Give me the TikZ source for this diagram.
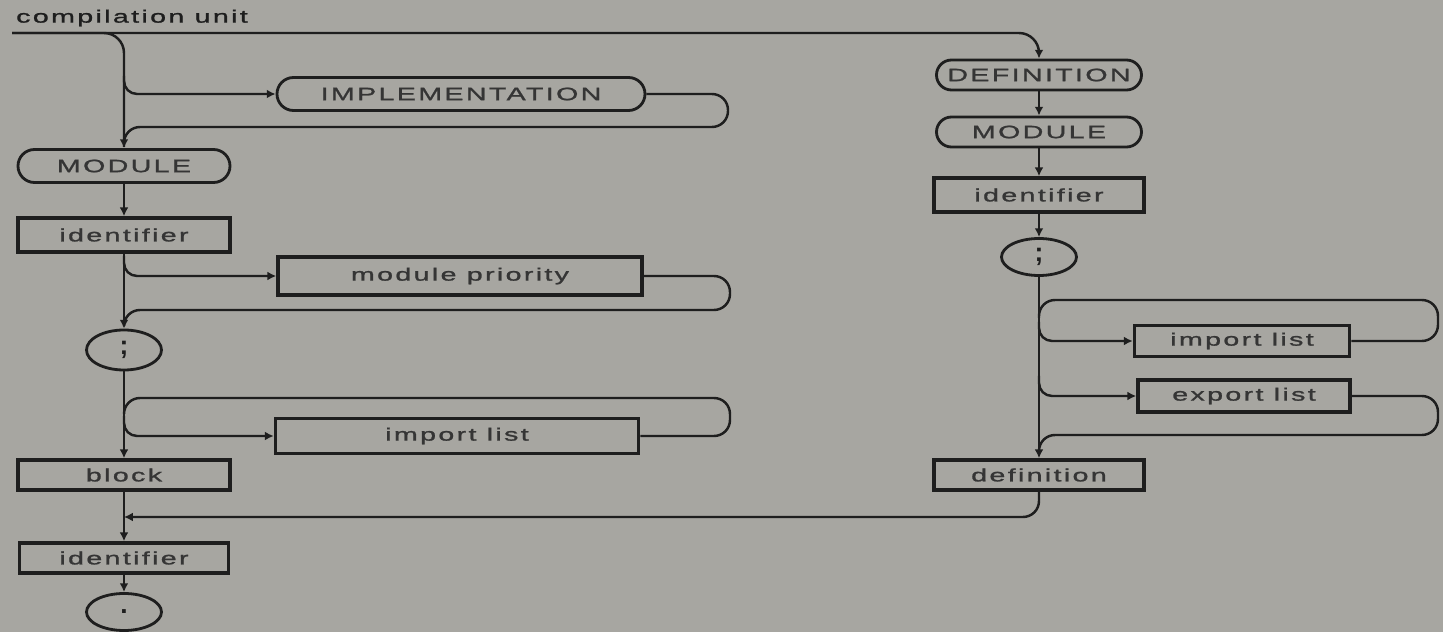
\documentclass[tikz,border=0pt]{standalone}
\usepackage{fontspec}
\newfontfamily\wirthfont[FakeStretch=1.6,LetterSpace=12.9,FakeBold=1.2]{Liberation Sans}
\usetikzlibrary{arrows.meta}
\usetikzlibrary{shapes.geometric}
\usetikzlibrary{shapes.misc}
\definecolor{paper}{RGB}{167,166,161}
\definecolor{ink}{RGB}{30,30,30}

\tikzset{
  synfont/.style={font=\wirthfont\fontsize{10.2pt}{12pt}\selectfont, text=ink!90},
  kwnode/.style={synfont, draw=ink, line width=1.6pt, rounded rectangle, inner sep=0pt},
  ntnode/.style={synfont, draw=ink, line width=2pt, rectangle, inner sep=0pt},
  symnode/.style={draw=ink, line width=1.6pt, ellipse, inner sep=0pt, text=ink,
    font=\fontspec{Liberation Sans Bold}\fontsize{15pt}{15pt}\selectfont},
  flow/.style={draw=ink, line width=1.4pt, rounded corners=2.6mm},
  loopend/.style={rounded corners=3.2mm},
  into/.style={-{Latex[length=5pt,width=5pt]}},
}

\begin{document}
\begin{tikzpicture}[x=0.2mm, y=-0.2mm]
	% Paper
	\fill[paper] (0,0) rectangle (1443,632);
	\useasboundingbox (0,0) rectangle (1443,632);
	
	\node[synfont, anchor=west, text=ink] (title) at (10,18) {compilation unit};
	
	% Implementation module (left column)
	\node[kwnode, minimum width=42.4mm, minimum height=6.6mm] (lmod) at (124,166) {MODULE};
	\node[ntnode, minimum width=42.4mm, minimum height=6.8mm] (lid) at (124,235) {identifier};
	\node[symnode, minimum width=15mm, minimum height=8mm] (lsemi) at (124,350) {;};
	\node[ntnode, minimum width=42.4mm, minimum height=6mm] (lblock) at (124,475) {block};
	\node[ntnode, minimum width=41.8mm, minimum height=6mm] (lid2) at (124,558) {identifier};
	\node[symnode, minimum width=15mm, minimum height=7.4mm] (lend) at (124,612) {.};
	
	\node[kwnode, minimum width=73.6mm, minimum height=6.6mm] (impl) at (461,94) {IMPLEMENTATION};
	\node[ntnode, minimum width=72.8mm, minimum height=7.6mm] (prio) at (460,276) {module priority};
	\node[ntnode, minimum width=72.6mm, minimum height=7mm] (limp) at (457,436) {import list};
	
	% Definition module (right column)
	\node[kwnode, minimum width=41mm, minimum height=6mm] (rdef) at (1039,75) {DEFINITION};
	\node[kwnode, minimum width=41mm, minimum height=6mm] (rmod) at (1039,132) {MODULE};
	\node[ntnode, minimum width=42mm, minimum height=6.8mm] (rid) at (1039,195) {identifier};
	\node[symnode, minimum width=15mm, minimum height=7.4mm] (rsemi) at (1039,257) {;};
	\node[ntnode, minimum width=43mm, minimum height=6.2mm] (rimp) at (1242,341) {import list};
	\node[ntnode, minimum width=42.4mm, minimum height=6.4mm] (rexp) at (1244,396) {export list};
	\node[ntnode, minimum width=42mm, minimum height=6mm] (rdefn) at (1039,475) {definition};
	
	% Branch and join points
	\coordinate (cu) at (12,33);
	\coordinate (bImpl) at (124,76);
	\coordinate (tImpl) at (728,127);
	\coordinate (jImpl) at (124,147);
	\coordinate (bPrio) at (124,256);
	\coordinate (tPrio) at (730,310);
	\coordinate (jPrio) at (124,326);
	\coordinate (bLImp) at (124,416);
	\coordinate (tLImp) at (730,398);
	\coordinate (jLImp) at (124,414);
	\coordinate (jDef) at (124,517);
	\coordinate (bRImp) at (1039,322);
	\coordinate (tRImp) at (1438,300);
	\coordinate (jRImp) at (1039,318);
	\coordinate (bRExp) at (1039,376);
	\coordinate (tRExp) at (1438,435);
	\coordinate (jRExp) at (1039,452);
	
	% Entry line
	\draw[flow, into, rounded corners=4mm] (cu) -- (rdef.north |- cu) -- (rdef.north);
	\draw[flow, into, rounded corners=4mm] (cu) -- (lmod.north |- cu) -- (lmod.north);
	
	% Left trunk
	\draw[flow, into] (lmod.south) -- (lid.north);
	\draw[flow, into] (lid.south) -- (lsemi.north);
	\draw[flow, into] (lsemi.south) -- (lblock.north);
	\draw[flow, into] (lblock.south) -- (lid2.north);
	\draw[flow, into] (lid2.south) -- (lend.north);
	
	% Optional IMPLEMENTATION
	\draw[flow, into] (bImpl) -- (bImpl |- impl.west) -- (impl.west);
	\draw[flow, loopend] (impl.east) -- (impl.east -| tImpl) -- (tImpl) -- (tImpl -| jImpl) -- (jImpl);
	
	% Optional priority
	\draw[flow, into] (bPrio) -- (bPrio |- prio.west) -- (prio.west);
	\draw[flow, loopend] (prio.east) -- (prio.east -| tPrio) -- (tPrio) -- (tPrio -| jPrio) -- (jPrio);
	
	% Repeated import list
	\draw[flow, into] (bLImp) -- (bLImp |- limp.west) -- (limp.west);
	\draw[flow, loopend] (limp.east) -- (limp.east -| tLImp) -- (tLImp) -- (tLImp -| jLImp) -- (jLImp);
	
	% Right trunk
	\draw[flow, into] (rdef.south) -- (rmod.north);
	\draw[flow, into] (rmod.south) -- (rid.north);
	\draw[flow, into] (rid.south) -- (rsemi.north);
	\draw[flow, into] (rsemi.south) -- (rdefn.north);
	
	\draw[flow, into] (bRImp) -- (bRImp |- rimp.west) -- (rimp.west);
	\draw[flow, loopend] (rimp.east) -- (rimp.east -| tRImp) -- (tRImp) -- (tRImp -| jRImp) -- (jRImp);
	
	\draw[flow, into] (bRExp) -- (bRExp |- rexp.west) -- (rexp.west);
	\draw[flow, loopend] (rexp.east) -- (rexp.east -| tRExp) -- (tRExp) -- (tRExp -| jRExp) -- (jRExp);
	
	% Back to the left column
	\draw[flow, into, loopend] (rdefn.south) -- (rdefn.south |- jDef) -- (jDef);
\end{tikzpicture}
\end{document}
